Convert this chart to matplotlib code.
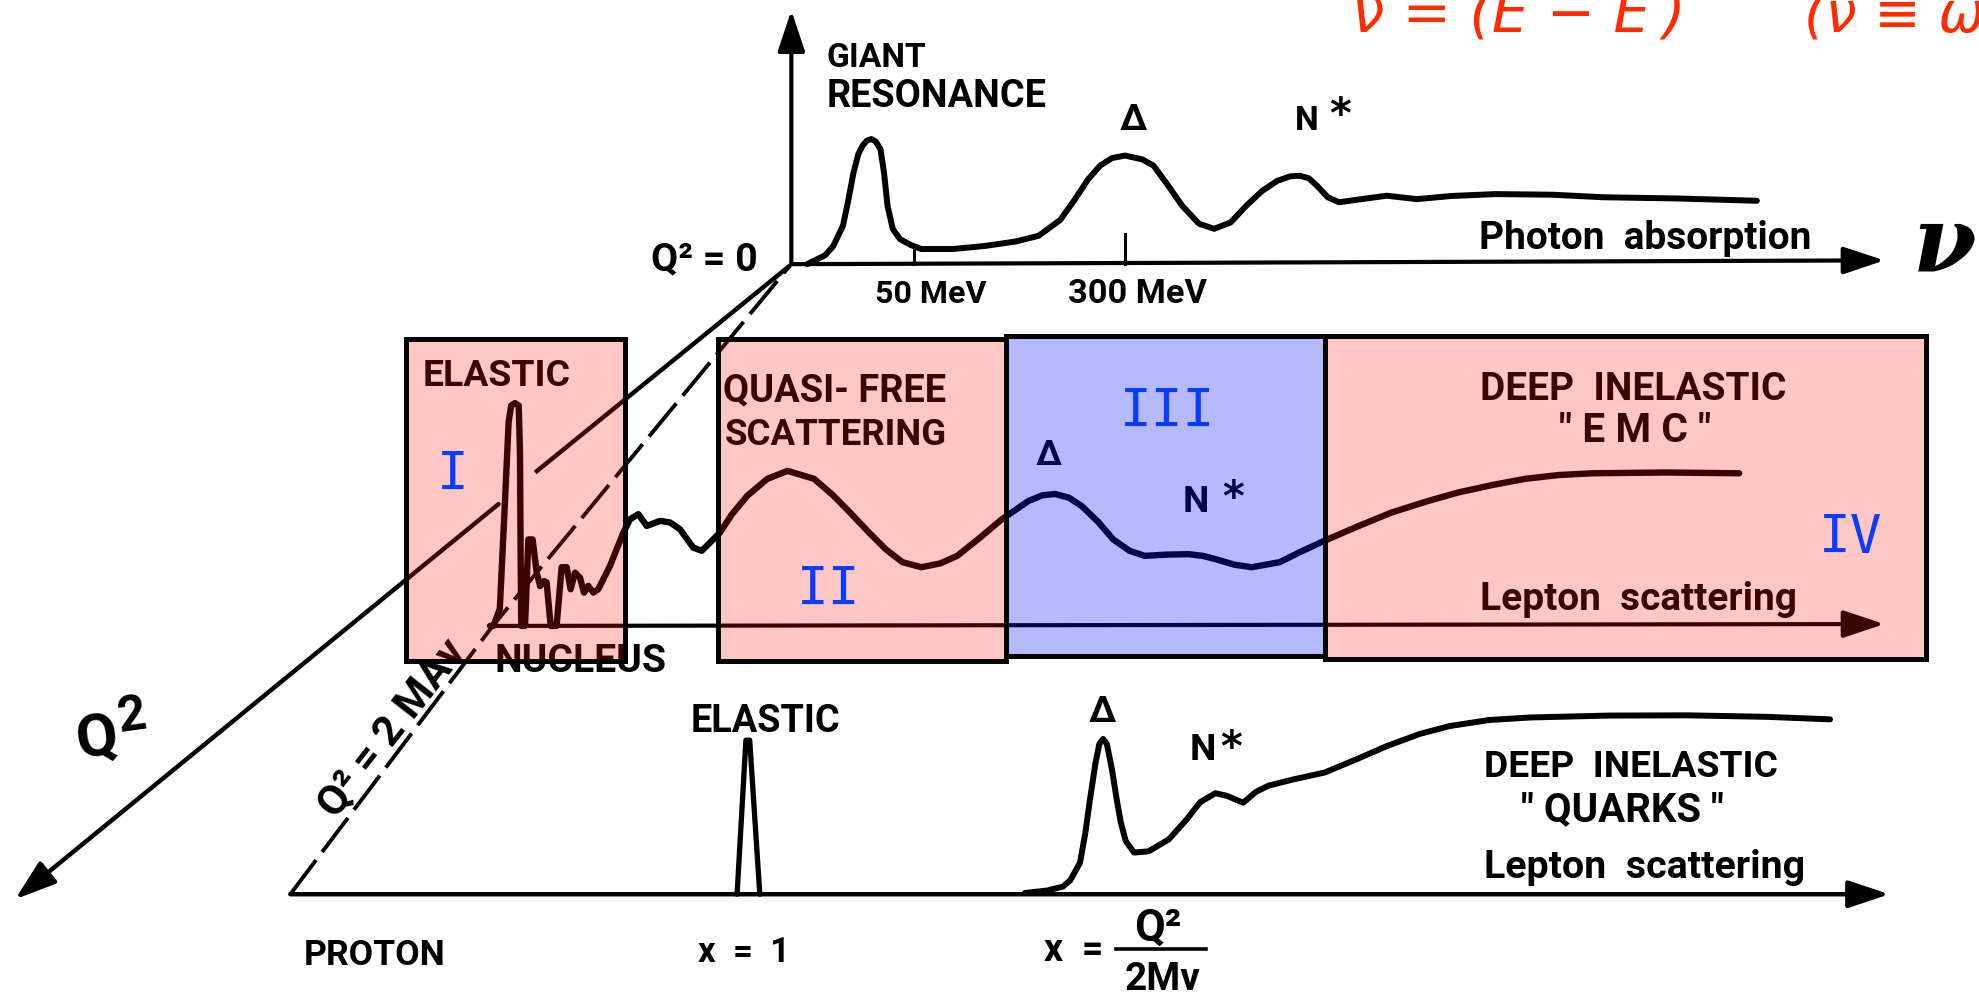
import matplotlib
matplotlib.use("Agg")
import matplotlib.pyplot as plt
from matplotlib.patches import Rectangle

# Drawing units: a 1568 x 788 canvas, y pointing down.
W, H = 1568, 788
SCALE = 1979 / W  # output pixels per drawing unit

# ---- response curves -------------------------------------------------------
# Photon absorption (Q^2 = 0): giant resonance, Delta, N*, then flat
photon_x = [639.5, 653.7, 660, 667.9, 672, 676.3, 680, 683.4, 687, 690.4, 694, 697.6,
            700.4, 703.2, 707.4, 713.1, 722, 730, 755, 781, 805, 823, 840, 851.8, 862,
            871.6, 881, 891.4, 905, 914, 925, 936.7, 950, 962, 975, 987.4, 1000, 1012,
            1022, 1030, 1037, 1043.6, 1052, 1061, 1075, 1098.7, 1122.7, 1150, 1184.6,
            1230, 1270, 1330, 1392]
photon_y = [210, 203, 196, 179.6, 160, 137.3, 123, 116.2, 112, 110.9, 113, 118.9,
            137.3, 163.7, 182.2, 190.2, 195, 198, 198, 195.5, 192, 187.5, 175, 158.5, 143,
            132, 126, 124, 127, 132, 147, 163.8, 178, 182, 177, 163.8, 152, 144,
            140.5, 140, 142, 148, 157, 161, 159, 155.8, 158.5, 156, 154.5,
            155, 157, 158, 159.8]

# Nucleus, lepton scattering: elastic line, excited levels, quasi-free, Delta, N*, DIS
nucleus_x = [388.2, 391, 396, 400, 403, 405, 408, 411, 412, 412.5, 413, 416, 418.6, 422,
             425.2, 427.9, 431, 433.1, 436.3, 441, 445, 449, 452.1, 455.6, 459.5, 462.7,
             466.1, 470.1, 474, 483.3, 493.9, 499.2, 505.8, 512.4, 523, 531, 538.8, 549.3,
             556, 565.2, 570.4, 580, 592, 608, 624, 645, 660, 673.5, 688, 701.8, 715, 730,
             745, 758.4, 776, 793.8, 815, 826, 836, 847, 857, 870, 882, 895, 907, 925,
             942, 953, 963.4, 978, 991.8, 1014, 1030, 1049.5, 1075, 1102.5, 1130, 1155.4,
             1182, 1208.4, 1235, 1261.6, 1320, 1378]
nucleus_y = [496.5, 496.5, 483, 400, 335, 322, 320, 322, 360, 440, 496.5, 496.5, 428, 428,
             454, 465, 461, 462, 496.5, 496.5, 450, 450, 467.5, 454.3, 458.2, 470.1,
             464.8, 470.1, 467.5, 449, 422.6, 412, 408, 417.3, 413.3, 414.6, 420, 434.5,
             437, 427.9, 422.6, 408, 393.5, 380, 373.7, 380, 393, 406.7, 422, 435.8, 446, 450,
             447, 441, 427, 412, 397.5, 393, 392, 395, 401.5, 414, 428, 437, 441, 440,
             439.7, 441, 443.7, 448, 450, 446, 438, 429, 418, 406.7, 398, 390.8,
             385, 380, 377, 375.6, 375, 375.6]

# Proton, lepton scattering: elastic peak at x = 1
proton_el_x = [584, 591, 594, 602]
proton_el_y = [709, 587, 587, 709]
# Proton resonances and deep inelastic continuum
proton_x = [812, 830, 842, 848, 855.7, 860, 863.6, 868, 871, 874, 877, 881, 884.8, 888,
            892, 898.6, 910, 926, 940, 951, 963, 972, 985, 995, 1005, 1025, 1049.6, 1075,
            1099, 1125, 1148.6, 1180, 1212.8, 1275, 1336.5, 1400, 1450]
proton_y = [708, 706, 703, 698, 684, 660, 634, 605, 590, 586, 590, 610, 634, 652,
            667, 676, 675, 665.6, 650, 636, 629, 631, 636.5, 628, 623, 618, 612.6, 602,
            591.6, 582, 575.8, 571, 569, 567.5, 567.3, 568.5, 570.5]

# ---- axes of the 3-D sketch -------------------------------------------------
origin = (627, 210)
nu_axis_end = (1493, 207)
vert_axis_end = (627, 9)
q2_axis_near = [(626, 211), (424, 375)]          # visible part behind the nucleus box
q2_axis_far = [(395, 400), (12, 713)]            # part that ends in the arrow
nucleus_axis = [(391, 496.5), (1493, 495)]
proton_axis = [(230, 709), (1497, 709)]
dashed_x = [230, 390, 626]
dashed_y = [709, 497, 211]
tick_x = [724, 891.5]
tick_top = [198, 186]

# ---- regions ---------------------------------------------------------------
# (x0, x1, y0, y1, kind)
regions = [(322, 495, 269, 524, "pink"),
           (569, 797, 269.4, 524, "pink"),
           (797, 1050, 266.8, 520.5, "blue"),
           (1050, 1526.4, 266.8, 523, "pink")]
region_names = ["I", "II", "III", "IV"]
region_name_x = [358.5, 656.5, 924.7, 1466]
region_name_base = [388, 479.4, 338, 438]

# ---- long labels: text, left, right, baseline (sized to their width) --------
labels = [
    ("GIANT", 655, 734, 53),
    ("RESONANCE", 655, 829, 84.5),
    ("Q\u00b2 = 0", 516, 600, 214),
    ("50 MeV", 693, 781, 240),
    ("300 MeV", 846, 956, 240),
    ("Photon  absorption", 1172, 1435, 197),
    ("ELASTIC", 335, 452, 306),
    ("QUASI- FREE", 573, 750, 318),
    ("SCATTERING", 574.5, 750, 352.6),
    ("DEEP  INELASTIC", 1173, 1415, 317),
    ("\" E M C \"", 1235, 1355, 350),
    ("Lepton  scattering", 1173, 1424, 483),
    ("NUCLEUS", 392, 528, 532),
    ("ELASTIC", 547, 665.6, 579.7),
    ("DEEP  INELASTIC", 1176, 1408, 615.5),
    ("\" QUARKS \"", 1205, 1366, 650),
    ("Lepton  scattering", 1176, 1430, 695),
    ("PROTON", 240.5, 352, 764.6),
    ("x  =  1", 553, 626, 762),
    ("x  =", 827, 874, 761),
    ("Q\u00b2", 898.5, 935.8, 745),
    ("2M\u03bd", 891, 951, 784),
]
# ---- short labels: text, centre x, baseline, letter height -----------------
short_labels = [
    ("\u0394", 898, 103, 21),
    ("N", 1035.5, 103, 19),
    ("\u0394", 831, 368.4, 20),
    ("N", 947.5, 405.4, 21),
    ("\u0394", 873, 572, 21),
    ("N", 953, 602, 21),
]
# superscript stars of N*: centre x, centre y
star_x = [1062, 977, 975.5]
star_y = [82.5, 385.6, 584]

# ---- figure ----------------------------------------------------------------
fig = plt.figure(figsize=(19.79, 9.95), dpi=100)
ax = fig.add_axes([0, 0, 1, 1])
ax.set_xlim(0, W)
ax.set_ylim(H, 0)
ax.axis("off")
renderer = fig.canvas.get_renderer()

SANS = ["Roboto", "DejaVu Sans"]
INK = "black"
CAP = 0.711  # cap height of Roboto, in em


def size_for_height(h):
    return h * SCALE * 0.72 / CAP


def fitted(s, x0, x1, yb, family=SANS, weight="bold", ha="left", **kw):
    t = ax.text(x0 if ha == "left" else (x0 + x1) / 2, yb, s, ha=ha, va="baseline",
                fontsize=20, family=family, weight=weight, color=INK, zorder=2, **kw)
    w = t.get_window_extent(renderer).width
    t.set_fontsize(20 * (x1 - x0) * SCALE / w)
    return t


def sized(s, xc, yb, h, family=SANS, weight="bold", **kw):
    return ax.text(xc, yb, s, ha="center", va="baseline", fontsize=size_for_height(h),
                   family=family, weight=weight, color=INK, zorder=2, **kw)


def arrow(p0, p1, lw=3.0):
    ax.annotate("", xy=p1, xytext=p0, zorder=2,
                arrowprops=dict(arrowstyle="-|>,head_length=0.9,head_width=0.3",
                                lw=lw, color=INK, mutation_scale=28,
                                shrinkA=0, shrinkB=0))


def curve(xs, ys, lw=4.3):
    ax.plot(xs, ys, color=INK, lw=lw, solid_joinstyle="round",
            solid_capstyle="round", zorder=2)


# axes
arrow(origin, vert_axis_end)
arrow(origin, nu_axis_end)
ax.plot(*zip(*q2_axis_near), color=INK, lw=3.2, zorder=2, solid_capstyle="butt")
arrow(q2_axis_far[0], q2_axis_far[1], lw=3.2)
arrow(nucleus_axis[0], nucleus_axis[1])
arrow(proton_axis[0], proton_axis[1], lw=3.2)
ax.plot(dashed_x, dashed_y, color=INK, lw=2.8, dashes=(11, 2.6), zorder=2)
for tx, ty in zip(tick_x, tick_top):
    ax.plot([tx, tx], [ty, origin[1]], color=INK, lw=2.2, zorder=2)

# curves
curve(photon_x, photon_y)
curve(nucleus_x, nucleus_y, lw=4.6)
curve(proton_el_x, proton_el_y, lw=3.8)
curve(proton_x, proton_y)

# labels
for s, x0, x1, yb in labels:
    fitted(s, x0, x1, yb)
for s, xc, yb, h in short_labels:
    sized(s, xc, yb, h)
for sx, sy in zip(star_x, star_y):
    ax.text(sx, sy + 19, "*", ha="center", va="baseline", fontsize=30,
            family="DejaVu Sans", weight="bold", color=INK, zorder=2)

# fraction bar of x = Q^2 / 2M nu
ax.plot([884, 955.6], [752.7, 752.7], color=INK, lw=2.6, zorder=2)

# energy-transfer axis symbol
ax.text(1541, 214, "\u03bd", ha="center", va="baseline", fontsize=66,
        family="DejaVu Serif", style="italic", weight="bold", color=INK, zorder=2)

# Q^2 axis symbol
sized("Q", 78.6, 598, 34, rotation=8, rotation_mode="anchor")
sized("2", 106, 578, 28, rotation=8, rotation_mode="anchor")

# kinematic line label along the dashed line
t = fitted("Q\u00b2 = 2 MA\u03bd", 0, 168, 583, ha="center")
t.set_position((318.5, 583))
t.set_rotation(52)
t.set_rotation_mode("anchor")

# red note
red = "#ff2a00"
for s, x0, x1 in [("\u03bd = (E \u2212 E\u2032)", 1071, 1335), ("(\u03bd \u2261 \u03c9", 1429, 1600)]:
    tt = ax.text(x0, 25, s, ha="left", va="baseline", fontsize=40,
                 family="DejaVu Sans", style="oblique", color=red, zorder=2)
    if x1 < W:
        w = tt.get_window_extent(renderer).width
        tt.set_fontsize(40 * (x1 - x0) * SCALE / w)

# translucent region overlays and their frames
fills = {"pink": (1.0, 0.082, 0.0, 0.235), "blue": (0.0, 0.08, 1.0, 0.29)}
for x0, x1, y0, y1, kind in regions:
    ax.add_patch(Rectangle((x0, y0), x1 - x0, y1 - y0, facecolor=fills[kind],
                           edgecolor="none", zorder=5))
for x0, x1, y0, y1, kind in regions:
    ax.add_patch(Rectangle((x0, y0), x1 - x0, y1 - y0, facecolor="none",
                           edgecolor=INK, lw=3.6, joinstyle="miter", zorder=6))

# region numerals
for name, nx, nb in zip(region_names, region_name_x, region_name_base):
    ax.text(nx, nb, name, ha="center", va="baseline", fontsize=38,
            family="DejaVu Sans Mono", color="#0a3cff", zorder=7)

fig.savefig("out.png", dpi=100)
